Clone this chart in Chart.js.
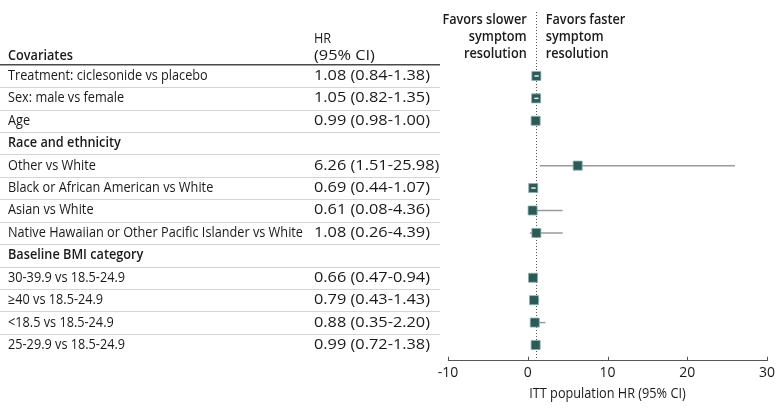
<!DOCTYPE html>
<html>
<head>
<meta charset="utf-8">
<script src="https://cdn.jsdelivr.net/npm/chart.js@4.4.0/dist/chart.umd.min.js"></script>
<style>
  html, body { margin: 0; padding: 0; background: #fff; }
  #wrap { width: 780px; height: 413px; position: relative; }
</style>
</head>
<body>
<div id="wrap"><canvas id="c" width="780" height="413"></canvas></div>
<script>
const rowLabels = [
  "Treatment: ciclesonide vs placebo",
  "Sex: male vs female",
  "Age",
  "Race and ethnicity",
  "Other vs White",
  "Black or African American vs White",
  "Asian vs White",
  "Native Hawaiian or Other Pacific Islander vs White",
  "Baseline BMI category",
  "30-39.9 vs 18.5-24.9",
  "\u226540 vs 18.5-24.9",
  "<18.5 vs 18.5-24.9",
  "25-29.9 vs 18.5-24.9"
];
const isHeader = [false, false, false, true, false, false, false, false, true, false, false, false, false];
const hrValues = [1.08, 1.05, 0.99, null, 6.26, 0.69, 0.61, 1.08, null, 0.66, 0.79, 0.88, 0.99];
const ciLow    = [0.84, 0.82, 0.98, null, 1.51, 0.44, 0.08, 0.26, null, 0.47, 0.43, 0.35, 0.72];
const ciHigh   = [1.38, 1.35, 1.00, null, 25.98, 1.07, 4.36, 4.39, null, 0.94, 1.43, 2.20, 1.38];
const xTicks = [-10, 0, 10, 20, 30];
const refLine = 1;
const axisTitle = "ITT population HR (95% CI)";

// style settings
const FONT = "'Open Sans', Lato, sans-serif";
const FSIZE = 14;
const TEXT = "#1a1a1a";
const MARK = "#2b5b57";
const innerDashRows = [0, 1, 5]; // rows where the short CI shows as a light dash inside the marker
let SX = 0.87;    // horizontal condensing factor for text
let SXNUM = 1.0;  // factor for numeric column

function drawText(ctx, str, x, y, align, bold, sx) {
  ctx.save();
  ctx.font = (bold ? "600 " : "") + FSIZE + "px " + FONT;
  ctx.textBaseline = 'middle';
  ctx.textAlign = align;
  ctx.translate(x, y);
  ctx.scale(sx === undefined ? SX : sx, 1);
  ctx.fillText(str, 0, 0);
  ctx.restore();
}

const points = [];
hrValues.forEach((v, i) => { if (v !== null) points.push({ x: v, y: i }); });

function hrString(i) {
  return hrValues[i].toFixed(2) + " (" + ciLow[i].toFixed(2) + "-" + ciHigh[i].toFixed(2) + ")";
}

const tablePlugin = {
  id: 'table',
  beforeDatasetsDraw(chart) {
    const ctx = chart.ctx;
    const xs = chart.scales.x, ys = chart.scales.y;
    ctx.save();
    ctx.font = FSIZE + "px " + FONT;
    SX = 295 / ctx.measureText(rowLabels[7]).width;
    SXNUM = 116 / ctx.measureText(hrString(0)).width;
    ctx.fillStyle = TEXT;
    // separators
    ctx.strokeStyle = "#d4d4d4";
    ctx.lineWidth = 1;
    for (let i = 0; i < rowLabels.length - 1; i++) {
      const y = Math.round(ys.getPixelForValue(i + 0.5)) + 0.5;
      ctx.beginPath(); ctx.moveTo(0, y); ctx.lineTo(440, y); ctx.stroke();
    }
    // header rule
    ctx.strokeStyle = "#4a4a4a";
    ctx.lineWidth = 1.5;
    const yh = ys.getPixelForValue(-0.5);
    ctx.beginPath(); ctx.moveTo(0, yh); ctx.lineTo(440, yh); ctx.stroke();

    // rows
    rowLabels.forEach((lab, i) => {
      const y = ys.getPixelForValue(i);
      drawText(ctx, lab, 8, y, 'left', isHeader[i]);
      if (hrValues[i] !== null) drawText(ctx, hrString(i), 314, y, 'left', false, SXNUM);
    });
    // column headers
    drawText(ctx, "Covariates", 8, yh - 9, 'left', true);
    drawText(ctx, "HR", 314, yh - 26, 'left', false);
    drawText(ctx, "(95% CI)", 314, yh - 9, 'left', false, SXNUM);

    // favors labels
    const xr = xs.getPixelForValue(refLine);
    const lines = [["Favors slower", "Favors faster"], ["symptom", "symptom"], ["resolution", "resolution"]];
    lines.forEach((pair, k) => {
      const y = 20 + k * 17;
      drawText(ctx, pair[0], xr - 9, y, 'right', true);
      drawText(ctx, pair[1], xr + 10, y, 'left', true);
    });

    // axis title
    drawText(ctx, axisTitle, (chart.chartArea.left + chart.chartArea.right) / 2, 394, 'center', false);

    // reference dotted line
    ctx.strokeStyle = "#555";
    ctx.lineWidth = 1;
    ctx.setLineDash([1, 2]);
    ctx.beginPath();
    ctx.moveTo(Math.round(xr) + 0.5, 12);
    ctx.lineTo(Math.round(xr) + 0.5, chart.chartArea.bottom);
    ctx.stroke();
    ctx.setLineDash([]);

    // axis ticks (upward)
    ctx.strokeStyle = "#555";
    ctx.lineWidth = 1;
    xs.ticks.forEach(t => {
      const x = Math.round(xs.getPixelForValue(t.value)) + 0.5;
      ctx.beginPath(); ctx.moveTo(x, chart.chartArea.bottom); ctx.lineTo(x, chart.chartArea.bottom - 4); ctx.stroke();
    });

    // CI lines
    ctx.strokeStyle = "#9a9a9a";
    ctx.lineWidth = 1.5;
    hrValues.forEach((v, i) => {
      if (v === null) return;
      const y = ys.getPixelForValue(i);
      ctx.beginPath();
      ctx.moveTo(xs.getPixelForValue(ciLow[i]), y);
      ctx.lineTo(xs.getPixelForValue(ciHigh[i]), y);
      ctx.stroke();
    });
    ctx.restore();
  },
  afterDatasetsDraw(chart) {
    const ctx = chart.ctx;
    const xs = chart.scales.x, ys = chart.scales.y;
    ctx.save();
    ctx.strokeStyle = "#e8eeee";
    ctx.lineWidth = 1.5;
    innerDashRows.forEach(i => {
      const xc = xs.getPixelForValue(hrValues[i]);
      const a = xs.getPixelForValue(ciLow[i]), b = xs.getPixelForValue(ciHigh[i]);
      const y = ys.getPixelForValue(i);
      ctx.beginPath(); ctx.moveTo(Math.max(a, xc - 2.5), y); ctx.lineTo(Math.min(b, xc + 2.5), y); ctx.stroke();
    });
    ctx.restore();
  }
};

new Chart(document.getElementById('c'), {
  type: 'scatter',
  data: {
    datasets: [{
      data: points,
      pointStyle: 'rect',
      pointRadius: 6.4,
      pointHoverRadius: 6.4,
      backgroundColor: MARK,
      borderColor: "#8fb0ad",
      borderWidth: 0.8
    }]
  },
  options: {
    responsive: false,
    animation: false,
    events: [],
    layout: { padding: { left: 448, right: 13, top: 8.7, bottom: 0 } },
    plugins: { legend: { display: false }, tooltip: { enabled: false } },
    scales: {
      x: {
        type: 'linear',
        min: xTicks[0],
        max: xTicks[xTicks.length - 1],
        afterBuildTicks(scale) { scale.ticks = xTicks.map(v => ({ value: v })); },
        afterFit(scale) { scale.height = 52.3; },
        grid: { display: false, drawTicks: false },
        border: { display: true, color: "#555", width: 1 },
        ticks: { color: TEXT, font: { family: FONT, size: 14 }, padding: 4 },
        title: { display: false }
      },
      y: {
        type: 'linear',
        reverse: true,
        min: -3,
        max: 12.7,
        display: false
      }
    }
  },
  plugins: [tablePlugin]
});
</script>
</body>
</html>
